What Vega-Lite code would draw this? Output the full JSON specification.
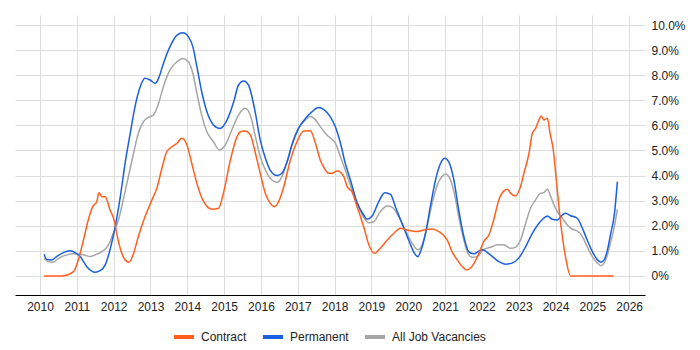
{
  "$schema": "https://vega.github.io/schema/vega-lite/v6.json",
  "width": 630,
  "height": 280,
  "padding": {"left": 15, "top": 15, "right": 0, "bottom": 0},
  "autosize": {"type": "pad"},
  "background": "white",
  "config": {
    "font": "Liberation Sans",
    "view": {"stroke": null},
    "axis": {"gridColor": "#dddddd", "gridWidth": 1, "labelFont": "Liberation Sans", "labelFontSize": 12, "labelColor": "#222222"}
  },
  "data": {"values": [
    {"s":"All Job Vacancies","x":2010.11,"y":0.7},{"s":"All Job Vacancies","x":2010.23,"y":0.57},{"s":"All Job Vacancies","x":2010.36,"y":0.55},{"s":"All Job Vacancies","x":2010.5,"y":0.7},{"s":"All Job Vacancies","x":2010.73,"y":0.84},{"s":"All Job Vacancies","x":2010.91,"y":0.88},{"s":"All Job Vacancies","x":2011.18,"y":0.84},{"s":"All Job Vacancies","x":2011.36,"y":0.77},{"s":"All Job Vacancies","x":2011.5,"y":0.84},{"s":"All Job Vacancies","x":2011.68,"y":0.97},{"s":"All Job Vacancies","x":2011.86,"y":1.24},{"s":"All Job Vacancies","x":2011.99,"y":1.7},{"s":"All Job Vacancies","x":2012.13,"y":2.23},{"s":"All Job Vacancies","x":2012.26,"y":3.03},{"s":"All Job Vacancies","x":2012.4,"y":3.96},{"s":"All Job Vacancies","x":2012.54,"y":4.89},{"s":"All Job Vacancies","x":2012.67,"y":5.69},{"s":"All Job Vacancies","x":2012.81,"y":6.15},{"s":"All Job Vacancies","x":2012.94,"y":6.32},{"s":"All Job Vacancies","x":2013.08,"y":6.41},{"s":"All Job Vacancies","x":2013.22,"y":6.88},{"s":"All Job Vacancies","x":2013.35,"y":7.54},{"s":"All Job Vacancies","x":2013.53,"y":8.21},{"s":"All Job Vacancies","x":2013.72,"y":8.54},{"s":"All Job Vacancies","x":2013.88,"y":8.67},{"s":"All Job Vacancies","x":2014.03,"y":8.54},{"s":"All Job Vacancies","x":2014.15,"y":8.08},{"s":"All Job Vacancies","x":2014.26,"y":7.28},{"s":"All Job Vacancies","x":2014.4,"y":6.35},{"s":"All Job Vacancies","x":2014.53,"y":5.75},{"s":"All Job Vacancies","x":2014.71,"y":5.35},{"s":"All Job Vacancies","x":2014.87,"y":5.02},{"s":"All Job Vacancies","x":2015.03,"y":5.22},{"s":"All Job Vacancies","x":2015.21,"y":5.82},{"s":"All Job Vacancies","x":2015.39,"y":6.41},{"s":"All Job Vacancies","x":2015.57,"y":6.68},{"s":"All Job Vacancies","x":2015.71,"y":6.41},{"s":"All Job Vacancies","x":2015.85,"y":5.55},{"s":"All Job Vacancies","x":2015.98,"y":4.75},{"s":"All Job Vacancies","x":2016.12,"y":4.22},{"s":"All Job Vacancies","x":2016.25,"y":3.89},{"s":"All Job Vacancies","x":2016.44,"y":3.73},{"s":"All Job Vacancies","x":2016.57,"y":3.96},{"s":"All Job Vacancies","x":2016.71,"y":4.55},{"s":"All Job Vacancies","x":2016.84,"y":5.22},{"s":"All Job Vacancies","x":2017.02,"y":5.88},{"s":"All Job Vacancies","x":2017.21,"y":6.22},{"s":"All Job Vacancies","x":2017.34,"y":6.35},{"s":"All Job Vacancies","x":2017.48,"y":6.22},{"s":"All Job Vacancies","x":2017.61,"y":5.95},{"s":"All Job Vacancies","x":2017.79,"y":5.62},{"s":"All Job Vacancies","x":2018.02,"y":5.29},{"s":"All Job Vacancies","x":2018.16,"y":4.75},{"s":"All Job Vacancies","x":2018.29,"y":4.22},{"s":"All Job Vacancies","x":2018.43,"y":3.6},{"s":"All Job Vacancies","x":2018.61,"y":2.9},{"s":"All Job Vacancies","x":2018.79,"y":2.34},{"s":"All Job Vacancies","x":2018.93,"y":2.12},{"s":"All Job Vacancies","x":2019.06,"y":2.16},{"s":"All Job Vacancies","x":2019.24,"y":2.56},{"s":"All Job Vacancies","x":2019.43,"y":2.79},{"s":"All Job Vacancies","x":2019.56,"y":2.74},{"s":"All Job Vacancies","x":2019.74,"y":2.36},{"s":"All Job Vacancies","x":2019.92,"y":1.83},{"s":"All Job Vacancies","x":2020.11,"y":1.3},{"s":"All Job Vacancies","x":2020.26,"y":1.04},{"s":"All Job Vacancies","x":2020.38,"y":1.24},{"s":"All Job Vacancies","x":2020.51,"y":1.96},{"s":"All Job Vacancies","x":2020.65,"y":2.9},{"s":"All Job Vacancies","x":2020.79,"y":3.63},{"s":"All Job Vacancies","x":2020.92,"y":3.96},{"s":"All Job Vacancies","x":2021.01,"y":4.06},{"s":"All Job Vacancies","x":2021.13,"y":3.89},{"s":"All Job Vacancies","x":2021.26,"y":3.23},{"s":"All Job Vacancies","x":2021.37,"y":2.36},{"s":"All Job Vacancies","x":2021.51,"y":1.43},{"s":"All Job Vacancies","x":2021.62,"y":0.9},{"s":"All Job Vacancies","x":2021.74,"y":0.74},{"s":"All Job Vacancies","x":2021.87,"y":0.77},{"s":"All Job Vacancies","x":2022.05,"y":1.06},{"s":"All Job Vacancies","x":2022.23,"y":1.14},{"s":"All Job Vacancies","x":2022.42,"y":1.24},{"s":"All Job Vacancies","x":2022.6,"y":1.24},{"s":"All Job Vacancies","x":2022.78,"y":1.1},{"s":"All Job Vacancies","x":2022.91,"y":1.14},{"s":"All Job Vacancies","x":2023.05,"y":1.43},{"s":"All Job Vacancies","x":2023.19,"y":2.1},{"s":"All Job Vacancies","x":2023.32,"y":2.7},{"s":"All Job Vacancies","x":2023.46,"y":3.03},{"s":"All Job Vacancies","x":2023.59,"y":3.29},{"s":"All Job Vacancies","x":2023.68,"y":3.32},{"s":"All Job Vacancies","x":2023.78,"y":3.45},{"s":"All Job Vacancies","x":2023.87,"y":3.16},{"s":"All Job Vacancies","x":2023.96,"y":2.83},{"s":"All Job Vacancies","x":2024.05,"y":2.56},{"s":"All Job Vacancies","x":2024.19,"y":2.3},{"s":"All Job Vacancies","x":2024.32,"y":2.03},{"s":"All Job Vacancies","x":2024.46,"y":1.86},{"s":"All Job Vacancies","x":2024.59,"y":1.8},{"s":"All Job Vacancies","x":2024.73,"y":1.57},{"s":"All Job Vacancies","x":2024.86,"y":1.17},{"s":"All Job Vacancies","x":2025.0,"y":0.77},{"s":"All Job Vacancies","x":2025.14,"y":0.51},{"s":"All Job Vacancies","x":2025.23,"y":0.41},{"s":"All Job Vacancies","x":2025.32,"y":0.51},{"s":"All Job Vacancies","x":2025.41,"y":0.84},{"s":"All Job Vacancies","x":2025.5,"y":1.37},{"s":"All Job Vacancies","x":2025.59,"y":1.9},{"s":"All Job Vacancies","x":2025.68,"y":2.66},
    {"s":"Permanent","x":2010.11,"y":0.86},{"s":"Permanent","x":2010.18,"y":0.66},{"s":"Permanent","x":2010.32,"y":0.64},{"s":"Permanent","x":2010.45,"y":0.77},{"s":"Permanent","x":2010.63,"y":0.93},{"s":"Permanent","x":2010.82,"y":1.0},{"s":"Permanent","x":2010.95,"y":0.93},{"s":"Permanent","x":2011.09,"y":0.77},{"s":"Permanent","x":2011.27,"y":0.37},{"s":"Permanent","x":2011.5,"y":0.15},{"s":"Permanent","x":2011.63,"y":0.21},{"s":"Permanent","x":2011.77,"y":0.44},{"s":"Permanent","x":2011.9,"y":1.04},{"s":"Permanent","x":2012.04,"y":1.96},{"s":"Permanent","x":2012.18,"y":3.16},{"s":"Permanent","x":2012.31,"y":4.49},{"s":"Permanent","x":2012.45,"y":5.69},{"s":"Permanent","x":2012.58,"y":6.75},{"s":"Permanent","x":2012.72,"y":7.54},{"s":"Permanent","x":2012.85,"y":7.88},{"s":"Permanent","x":2012.99,"y":7.81},{"s":"Permanent","x":2013.13,"y":7.68},{"s":"Permanent","x":2013.22,"y":7.88},{"s":"Permanent","x":2013.35,"y":8.47},{"s":"Permanent","x":2013.53,"y":9.14},{"s":"Permanent","x":2013.72,"y":9.6},{"s":"Permanent","x":2013.88,"y":9.69},{"s":"Permanent","x":2014.03,"y":9.53},{"s":"Permanent","x":2014.15,"y":9.14},{"s":"Permanent","x":2014.26,"y":8.34},{"s":"Permanent","x":2014.4,"y":7.28},{"s":"Permanent","x":2014.53,"y":6.55},{"s":"Permanent","x":2014.71,"y":6.02},{"s":"Permanent","x":2014.89,"y":5.88},{"s":"Permanent","x":2015.08,"y":6.22},{"s":"Permanent","x":2015.26,"y":6.94},{"s":"Permanent","x":2015.39,"y":7.61},{"s":"Permanent","x":2015.53,"y":7.77},{"s":"Permanent","x":2015.66,"y":7.61},{"s":"Permanent","x":2015.85,"y":6.48},{"s":"Permanent","x":2015.98,"y":5.42},{"s":"Permanent","x":2016.12,"y":4.69},{"s":"Permanent","x":2016.25,"y":4.22},{"s":"Permanent","x":2016.44,"y":4.0},{"s":"Permanent","x":2016.57,"y":4.09},{"s":"Permanent","x":2016.71,"y":4.55},{"s":"Permanent","x":2016.84,"y":5.22},{"s":"Permanent","x":2017.02,"y":5.88},{"s":"Permanent","x":2017.21,"y":6.28},{"s":"Permanent","x":2017.39,"y":6.55},{"s":"Permanent","x":2017.57,"y":6.71},{"s":"Permanent","x":2017.7,"y":6.64},{"s":"Permanent","x":2017.88,"y":6.35},{"s":"Permanent","x":2018.02,"y":5.95},{"s":"Permanent","x":2018.16,"y":5.29},{"s":"Permanent","x":2018.29,"y":4.49},{"s":"Permanent","x":2018.43,"y":3.82},{"s":"Permanent","x":2018.61,"y":2.93},{"s":"Permanent","x":2018.79,"y":2.43},{"s":"Permanent","x":2018.88,"y":2.26},{"s":"Permanent","x":2019.02,"y":2.39},{"s":"Permanent","x":2019.2,"y":2.96},{"s":"Permanent","x":2019.36,"y":3.32},{"s":"Permanent","x":2019.52,"y":3.25},{"s":"Permanent","x":2019.65,"y":2.76},{"s":"Permanent","x":2019.83,"y":2.1},{"s":"Permanent","x":2020.01,"y":1.43},{"s":"Permanent","x":2020.17,"y":0.9},{"s":"Permanent","x":2020.26,"y":0.77},{"s":"Permanent","x":2020.35,"y":1.04},{"s":"Permanent","x":2020.47,"y":1.7},{"s":"Permanent","x":2020.6,"y":2.76},{"s":"Permanent","x":2020.74,"y":3.82},{"s":"Permanent","x":2020.88,"y":4.49},{"s":"Permanent","x":2020.99,"y":4.69},{"s":"Permanent","x":2021.1,"y":4.55},{"s":"Permanent","x":2021.24,"y":3.82},{"s":"Permanent","x":2021.37,"y":2.63},{"s":"Permanent","x":2021.51,"y":1.57},{"s":"Permanent","x":2021.64,"y":0.97},{"s":"Permanent","x":2021.78,"y":0.88},{"s":"Permanent","x":2021.94,"y":1.01},{"s":"Permanent","x":2022.01,"y":1.04},{"s":"Permanent","x":2022.23,"y":0.84},{"s":"Permanent","x":2022.46,"y":0.57},{"s":"Permanent","x":2022.64,"y":0.47},{"s":"Permanent","x":2022.82,"y":0.51},{"s":"Permanent","x":2023.0,"y":0.71},{"s":"Permanent","x":2023.19,"y":1.17},{"s":"Permanent","x":2023.37,"y":1.7},{"s":"Permanent","x":2023.55,"y":2.1},{"s":"Permanent","x":2023.68,"y":2.3},{"s":"Permanent","x":2023.78,"y":2.39},{"s":"Permanent","x":2023.91,"y":2.26},{"s":"Permanent","x":2024.05,"y":2.23},{"s":"Permanent","x":2024.19,"y":2.43},{"s":"Permanent","x":2024.27,"y":2.5},{"s":"Permanent","x":2024.41,"y":2.4},{"s":"Permanent","x":2024.59,"y":2.3},{"s":"Permanent","x":2024.73,"y":1.9},{"s":"Permanent","x":2024.86,"y":1.43},{"s":"Permanent","x":2025.0,"y":0.97},{"s":"Permanent","x":2025.14,"y":0.64},{"s":"Permanent","x":2025.23,"y":0.55},{"s":"Permanent","x":2025.32,"y":0.64},{"s":"Permanent","x":2025.41,"y":1.04},{"s":"Permanent","x":2025.5,"y":1.7},{"s":"Permanent","x":2025.59,"y":2.36},{"s":"Permanent","x":2025.68,"y":3.76},
    {"s":"Contract","x":2010.11,"y":0},{"s":"Contract","x":2010.59,"y":0},{"s":"Contract","x":2010.91,"y":0.17},{"s":"Contract","x":2011.04,"y":0.64},{"s":"Contract","x":2011.18,"y":1.43},{"s":"Contract","x":2011.31,"y":2.23},{"s":"Contract","x":2011.43,"y":2.76},{"s":"Contract","x":2011.54,"y":2.96},{"s":"Contract","x":2011.6,"y":3.32},{"s":"Contract","x":2011.68,"y":3.16},{"s":"Contract","x":2011.77,"y":3.16},{"s":"Contract","x":2011.9,"y":2.63},{"s":"Contract","x":2012.01,"y":2.23},{"s":"Contract","x":2012.1,"y":1.57},{"s":"Contract","x":2012.22,"y":0.9},{"s":"Contract","x":2012.31,"y":0.64},{"s":"Contract","x":2012.42,"y":0.55},{"s":"Contract","x":2012.54,"y":0.9},{"s":"Contract","x":2012.67,"y":1.57},{"s":"Contract","x":2012.85,"y":2.36},{"s":"Contract","x":2013.04,"y":3.03},{"s":"Contract","x":2013.17,"y":3.49},{"s":"Contract","x":2013.31,"y":4.29},{"s":"Contract","x":2013.44,"y":4.95},{"s":"Contract","x":2013.53,"y":5.09},{"s":"Contract","x":2013.72,"y":5.29},{"s":"Contract","x":2013.85,"y":5.49},{"s":"Contract","x":2013.99,"y":5.22},{"s":"Contract","x":2014.12,"y":4.49},{"s":"Contract","x":2014.26,"y":3.69},{"s":"Contract","x":2014.42,"y":3.03},{"s":"Contract","x":2014.67,"y":2.66},{"s":"Contract","x":2014.85,"y":2.7},{"s":"Contract","x":2014.98,"y":3.29},{"s":"Contract","x":2015.17,"y":4.62},{"s":"Contract","x":2015.35,"y":5.55},{"s":"Contract","x":2015.44,"y":5.75},{"s":"Contract","x":2015.57,"y":5.78},{"s":"Contract","x":2015.71,"y":5.62},{"s":"Contract","x":2015.85,"y":4.89},{"s":"Contract","x":2015.98,"y":4.09},{"s":"Contract","x":2016.12,"y":3.29},{"s":"Contract","x":2016.25,"y":2.9},{"s":"Contract","x":2016.36,"y":2.76},{"s":"Contract","x":2016.48,"y":2.96},{"s":"Contract","x":2016.62,"y":3.56},{"s":"Contract","x":2016.8,"y":4.62},{"s":"Contract","x":2016.98,"y":5.36},{"s":"Contract","x":2017.16,"y":5.78},{"s":"Contract","x":2017.34,"y":5.79},{"s":"Contract","x":2017.48,"y":5.29},{"s":"Contract","x":2017.61,"y":4.62},{"s":"Contract","x":2017.7,"y":4.35},{"s":"Contract","x":2017.84,"y":4.09},{"s":"Contract","x":2017.93,"y":4.09},{"s":"Contract","x":2018.07,"y":4.18},{"s":"Contract","x":2018.25,"y":3.96},{"s":"Contract","x":2018.34,"y":3.56},{"s":"Contract","x":2018.47,"y":3.36},{"s":"Contract","x":2018.61,"y":2.76},{"s":"Contract","x":2018.79,"y":1.96},{"s":"Contract","x":2018.93,"y":1.24},{"s":"Contract","x":2019.08,"y":0.9},{"s":"Contract","x":2019.24,"y":1.1},{"s":"Contract","x":2019.43,"y":1.43},{"s":"Contract","x":2019.61,"y":1.7},{"s":"Contract","x":2019.79,"y":1.9},{"s":"Contract","x":2019.97,"y":1.83},{"s":"Contract","x":2020.24,"y":1.77},{"s":"Contract","x":2020.42,"y":1.83},{"s":"Contract","x":2020.65,"y":1.87},{"s":"Contract","x":2020.83,"y":1.77},{"s":"Contract","x":2021.06,"y":1.43},{"s":"Contract","x":2021.19,"y":0.97},{"s":"Contract","x":2021.33,"y":0.64},{"s":"Contract","x":2021.47,"y":0.37},{"s":"Contract","x":2021.58,"y":0.24},{"s":"Contract","x":2021.74,"y":0.4},{"s":"Contract","x":2021.92,"y":0.9},{"s":"Contract","x":2022.05,"y":1.37},{"s":"Contract","x":2022.19,"y":1.63},{"s":"Contract","x":2022.32,"y":2.23},{"s":"Contract","x":2022.46,"y":3.03},{"s":"Contract","x":2022.6,"y":3.39},{"s":"Contract","x":2022.69,"y":3.45},{"s":"Contract","x":2022.78,"y":3.29},{"s":"Contract","x":2022.91,"y":3.19},{"s":"Contract","x":2023.05,"y":3.56},{"s":"Contract","x":2023.14,"y":4.09},{"s":"Contract","x":2023.28,"y":4.89},{"s":"Contract","x":2023.37,"y":5.69},{"s":"Contract","x":2023.46,"y":5.88},{"s":"Contract","x":2023.55,"y":6.22},{"s":"Contract","x":2023.61,"y":6.37},{"s":"Contract","x":2023.68,"y":6.22},{"s":"Contract","x":2023.78,"y":6.28},{"s":"Contract","x":2023.85,"y":5.69},{"s":"Contract","x":2023.94,"y":5.02},{"s":"Contract","x":2024.03,"y":3.69},{"s":"Contract","x":2024.14,"y":2.1},{"s":"Contract","x":2024.27,"y":0.77},{"s":"Contract","x":2024.41,"y":0},{"s":"Contract","x":2025.58,"y":0}
  ]},
  "mark": {"type": "line", "strokeWidth": 1.5, "interpolate": "monotone"},
  "encoding": {
    "x": {
      "field": "x", "type": "quantitative",
      "scale": {"domain": [2009.32, 2026.43], "nice": false, "zero": false},
      "axis": {"title": null, "values": [2010,2011,2012,2013,2014,2015,2016,2017,2018,2019,2020,2021,2022,2023,2024,2025,2026], "format": "d", "domainColor": "#000000", "domainWidth": 1, "ticks": false, "labelPadding": 6, "labelFlush": false}
    },
    "y": {
      "field": "y", "type": "quantitative",
      "scale": {"domain": [-0.76, 10.4], "nice": false, "zero": false},
      "axis": {"title": null, "orient": "right", "values": [0,1,2,3,4,5,6,7,8,9,10], "labelExpr": "datum.value == 0 ? '0%' : format(datum.value, '.1f') + '%'", "domain": false, "ticks": false, "labelPadding": 6, "labelAlign": "left"}
    },
    "color": {
      "field": "s", "type": "nominal",
      "scale": {"domain": ["Contract", "Permanent", "All Job Vacancies"], "range": ["#ff5f1f", "#1a5fdf", "#a6a6a6"]},
      "legend": {"title": null, "orient": "none", "legendX": 157, "legendY": 310, "direction": "horizontal", "symbolType": "stroke", "symbolStrokeWidth": 4, "symbolSize": 400, "labelFontSize": 12, "labelFont": "Liberation Sans", "labelColor": "#222222", "columnPadding": 8, "labelOffset": 5}
    }
  }
}
